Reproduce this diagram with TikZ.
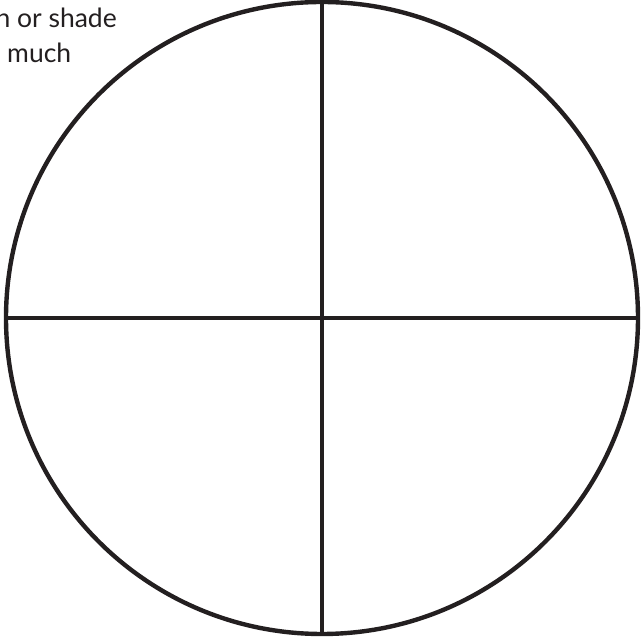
\documentclass[tikz,border=0pt]{standalone}
\usepackage{fontspec}
\setmainfont{Lato}
\usepackage{xcolor}
\usetikzlibrary{positioning}
\definecolor{ink}{HTML}{231F20}

\begin{document}
\begin{tikzpicture}[x=1pt, y=1pt]
    \useasboundingbox (0,0) rectangle (643,642);
    \clip (0,0) rectangle (643,642);
    \node[font=\fontsize{26.5}{30}\selectfont, anchor=base east, text=ink, inner sep=0pt] (hint1) at (117,614) {n or shade};
    \node[font=\fontsize{26.5}{30}\selectfont, anchor=base west, text=ink, inner sep=0pt] (hint2) at (7,579) {much};
    \node[draw=ink, line width=4.4pt, circle, minimum size=632pt, inner sep=0pt] (wheel) at (322,324) {};
    \draw[ink, line width=4.4pt] (wheel.north) -- (wheel.south);
    \draw[ink, line width=4.4pt] (wheel.west) -- (wheel.east);
\end{tikzpicture}
\end{document}
